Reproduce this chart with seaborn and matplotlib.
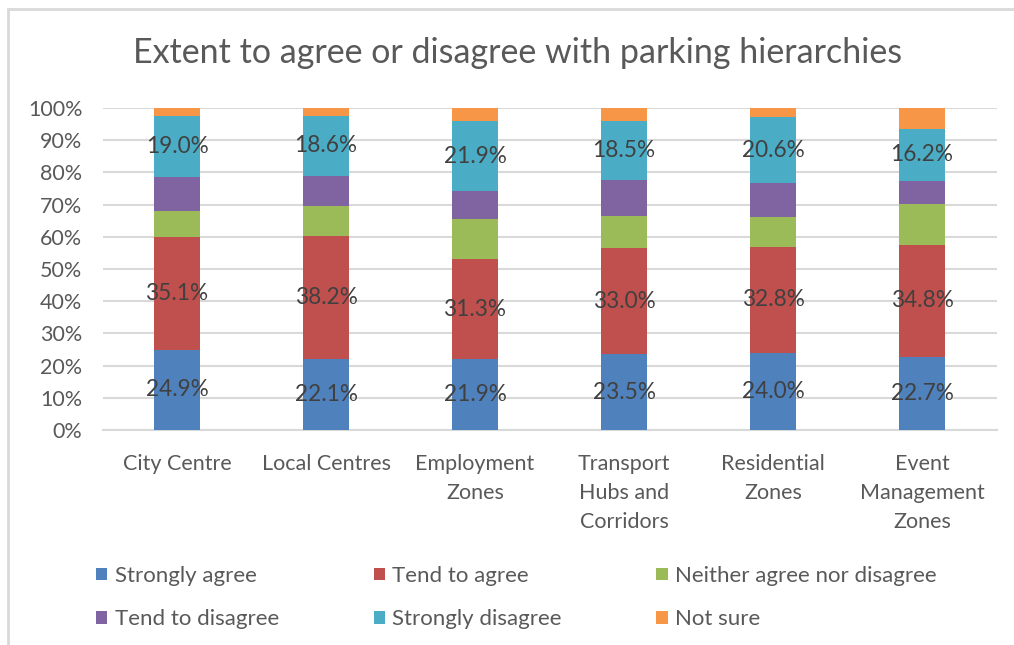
import numpy as np
import pandas as pd
import matplotlib
matplotlib.use("Agg")
import matplotlib.pyplot as plt
from matplotlib.patches import Patch, Rectangle
import seaborn as sns

categories = ["City Centre", "Local Centres", "Employment Zones",
              "Transport Hubs and Corridors", "Residential Zones",
              "Event Management Zones"]
tick_labels = ["City Centre", "Local Centres", "Employment\nZones",
               "Transport\nHubs and\nCorridors", "Residential\nZones",
               "Event\nManagement\nZones"]
series = ["Strongly agree", "Tend to agree", "Neither agree nor disagree",
          "Tend to disagree", "Strongly disagree", "Not sure"]

strongly_agree    = [24.9, 22.1, 21.9, 23.5, 24.0, 22.7]
tend_to_agree     = [35.1, 38.2, 31.3, 33.0, 32.8, 34.8]
neither           = [8.0, 9.4, 12.2, 10.1, 9.3, 12.6]
tend_to_disagree  = [10.5, 9.2, 8.7, 11.0, 10.5, 7.3]
strongly_disagree = [19.0, 18.6, 21.9, 18.5, 20.6, 16.2]
not_sure          = [2.5, 2.5, 4.0, 3.9, 2.8, 6.4]

labelled = ["Strongly agree", "Tend to agree", "Strongly disagree"]
colors = ["#4F81BD", "#C0504D", "#9BBB59", "#8064A2", "#4BACC6", "#F79646"]

values = np.array([strongly_agree, tend_to_agree, neither, tend_to_disagree,
                   strongly_disagree, not_sure])
cum = np.cumsum(values, axis=0)

sns.set_theme(style="white")
plt.rcParams['font.family'] = ['Lato', 'DejaVu Sans']

fig = plt.figure(figsize=(10.14, 6.45), dpi=100)
W, H = 1014, 645
ax = fig.add_axes([102.5 / W, (H - 430) / H, 894 / W, 322 / H])

# Outer chart border
fig.patches.append(Rectangle((8 / W, -0.05), 1.1, (H - 9) / H + 0.05,
                             transform=fig.transFigure, fill=False,
                             edgecolor="#D9D9D9", linewidth=2, zorder=0))

bar_w = 0.31
for i in range(len(series) - 1, -1, -1):
    df = pd.DataFrame({"cat": categories, "val": cum[i]})
    sns.barplot(data=df, x="cat", y="val", order=categories, color=colors[i],
                saturation=1, width=bar_w, ax=ax, errorbar=None,
                linewidth=0, zorder=3)

for i, name in enumerate(series):
    if name in labelled:
        for j in range(len(categories)):
            y = cum[i][j] - values[i][j] / 2
            ax.text(j, y, f"{values[i][j]:.1f}%", ha="center", va="center",
                    fontsize=16.3, color="#404040", zorder=5)

ax.set_ylim(0, 100)
ax.set_xlim(-0.5, len(categories) - 0.5)
ax.set_yticks(np.arange(0, 101, 10))
ax.set_yticklabels([f"{v}%" for v in range(0, 101, 10)])
ax.set_xticks(range(len(categories)))
ax.set_xticklabels(tick_labels, linespacing=1.57)
ax.tick_params(axis="y", labelsize=15.5, colors="#595959", length=0, pad=14.5)
ax.tick_params(axis="x", labelsize=15.5, colors="#595959", length=0, pad=17)
for lab in ax.get_xticklabels():
    lab.set_verticalalignment("top")
ax.set_xlabel("")
ax.set_ylabel("")
ax.grid(axis="y", color="#D9D9D9", linewidth=1.5, zorder=0)
ax.set_axisbelow(True)
for s in ["top", "right", "left"]:
    ax.spines[s].set_visible(False)
ax.spines["bottom"].set_color("#D9D9D9")
ax.spines["bottom"].set_linewidth(1.5)

fig.text(518 / W, 1 - 53 / H, "Extent to agree or disagree with parking hierarchies",
         ha="center", va="center", fontsize=24.5, color="#595959")

handles = [Patch(facecolor=c, edgecolor="none") for c in colors]
order = [0, 3, 1, 4, 2, 5]
leg = fig.legend([handles[k] for k in order], [series[k] for k in order],
                 ncol=3, loc="upper left", bbox_to_anchor=(76 / W, 1 - 546 / H),
                 frameon=False, fontsize=16, handlelength=0.5, handleheight=0.5,
                 handletextpad=0.35, columnspacing=4.25, labelspacing=1.05,
                 labelcolor="#595959")

fig.savefig("out.png", dpi=100)
